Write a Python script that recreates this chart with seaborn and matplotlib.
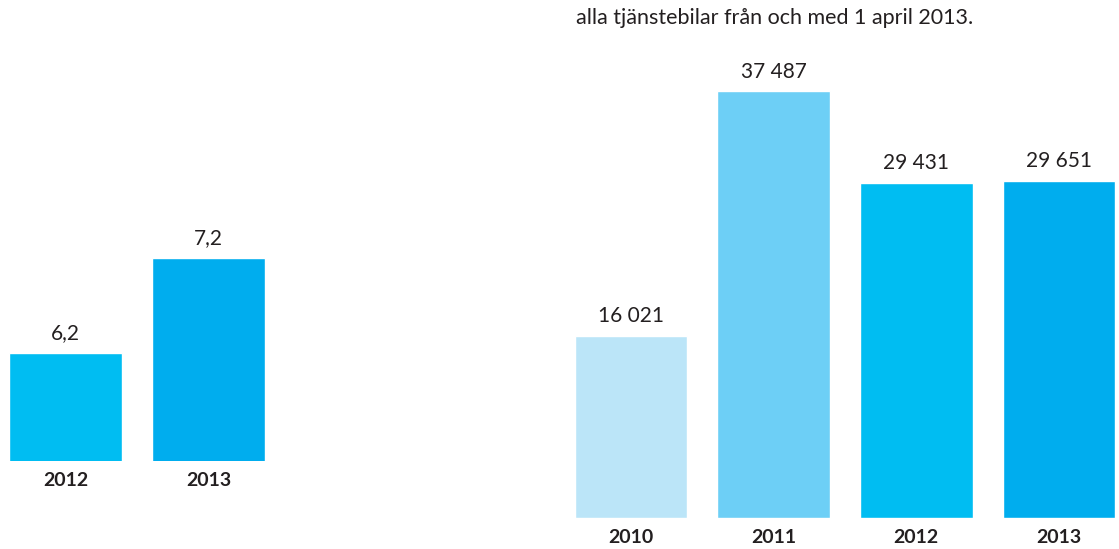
import seaborn as sns
import matplotlib.pyplot as plt
import pandas as pd

# data
left_years = ["2012", "2013"]
left_values = [6.2, 7.2]
left_colors = ["#00bdf2", "#00adee"]

right_years = ["2010", "2011", "2012", "2013"]
right_values = [16021, 37487, 29431, 29651]
right_colors = ["#bbe5f8", "#6dcff6", "#00bdf2", "#00adee"]

subtitle = "alla tjänstebilar från och med 1 april 2013."

sns.set_style("white")
plt.rcParams["font.family"] = ["Lato", "DejaVu Sans"]

W, H = 1119, 549
fig = plt.figure(figsize=(W / 100, H / 100), dpi=100)


def px_axes(left, bottom, width, height):
    return fig.add_axes([left / W, bottom / H, width / W, height / H])


def draw(ax, years, values, colors, labels):
    df = pd.DataFrame({"year": years, "value": values})
    sns.barplot(data=df, x="year", y="value", hue="year", palette=colors,
                width=0.79, legend=False, ax=ax, saturation=1)
    for cont, lab in zip(ax.containers, labels):
        ax.bar_label(cont, labels=[lab], padding=7, fontsize=15,
                     fontweight="normal", color="#231f20")
    sns.despine(ax=ax, left=True, bottom=True)
    ax.set_yticks([])
    ax.set_xlabel("")
    ax.set_ylabel("")
    ax.tick_params(axis="x", length=0, pad=8, labelsize=14)
    for t in ax.get_xticklabels():
        t.set_fontweight("bold")
        t.set_color("#231f20")
    ax.patch.set_alpha(0)


# left panel: axis does not start at zero
ax1 = px_axes(1, 88, 286, 290)
draw(ax1, left_years, left_values, left_colors,
     [str(v).replace(".", ",") for v in left_values])
ax1.set_xlim(-0.45, 1.55)
ax1.set_ylim(5.06, 5.06 + 290 / 95)

# right panel
ax2 = px_axes(567, 31, 556, 478)
draw(ax2, right_years, right_values, right_colors,
     [f"{v:,}".replace(",", " ") for v in right_values])
ax2.set_xlim(-0.45, 3.45)
ax2.set_ylim(0, 42000)

fig.text(576 / W, 1 - 18 / H, subtitle, fontsize=15.5, fontweight="normal",
         color="#231f20", va="center", ha="left")

fig.savefig("out.png", dpi=100)
